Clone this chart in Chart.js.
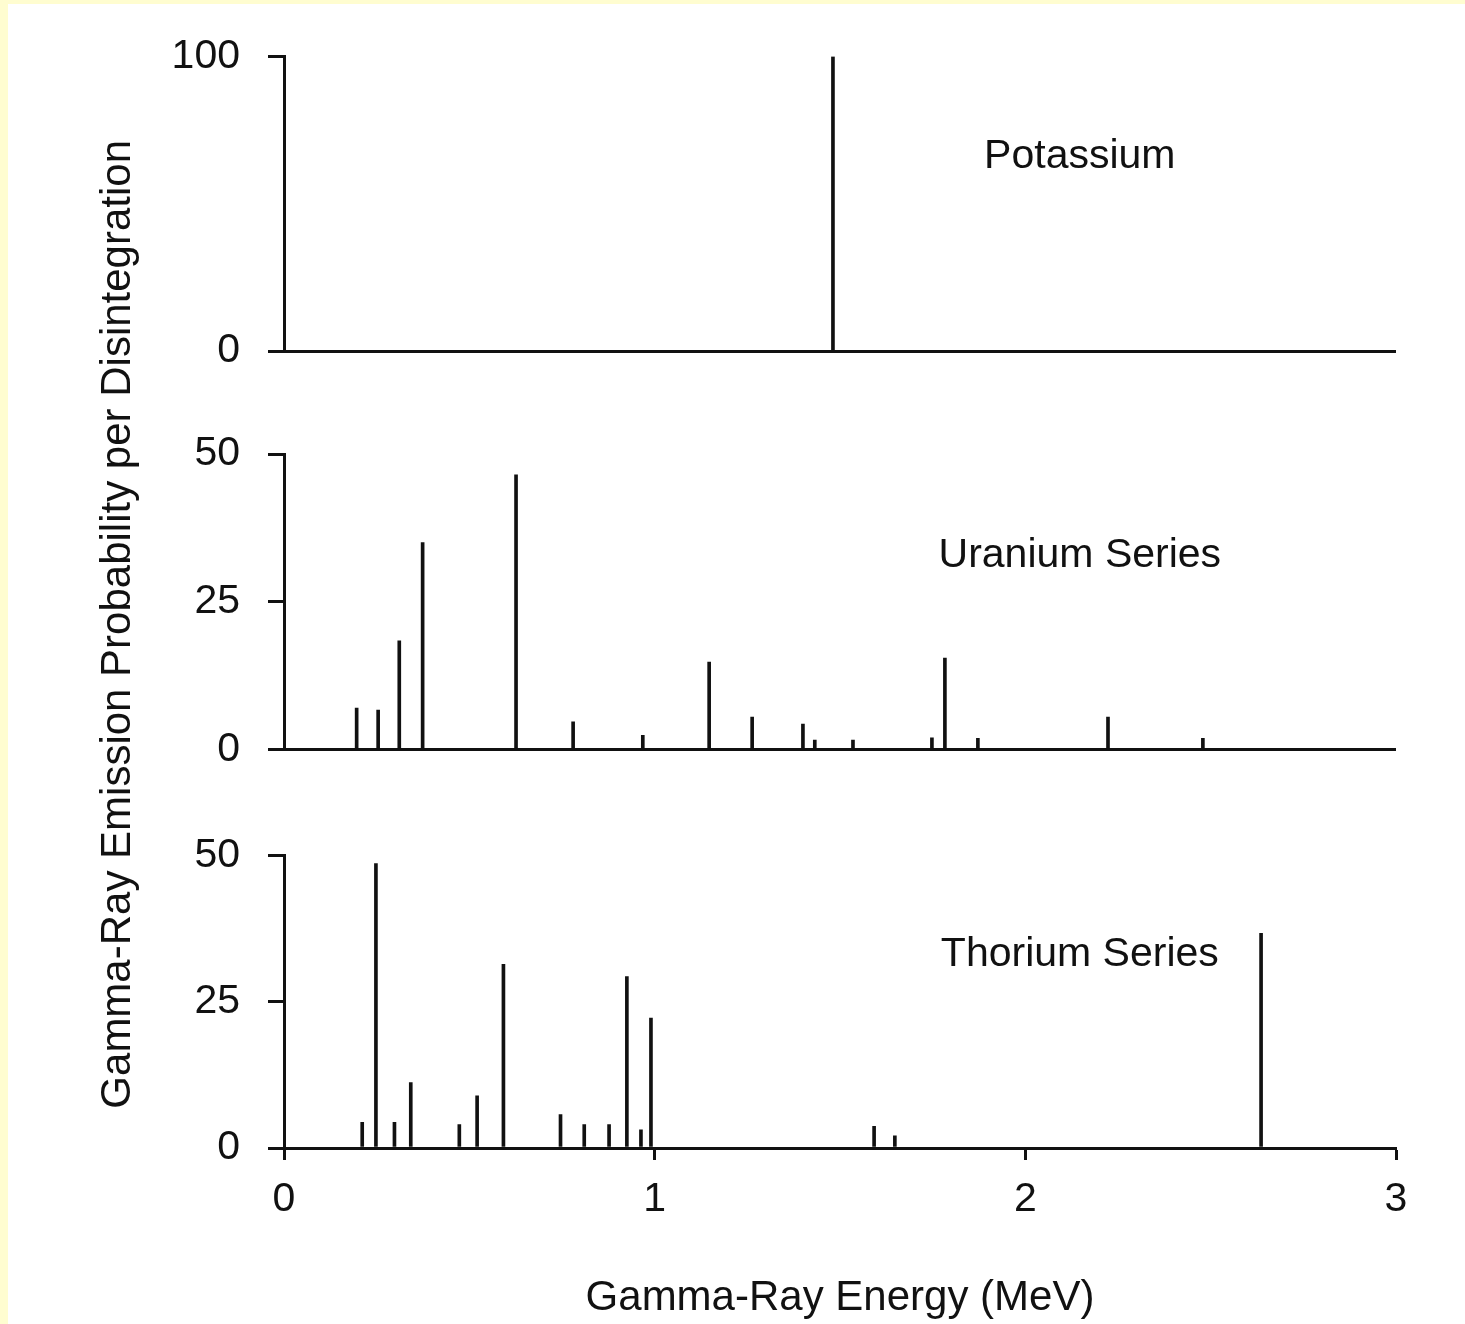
<!DOCTYPE html>
<html>
<head>
<meta charset="utf-8">
<script src="https://cdn.jsdelivr.net/npm/chart.js@4.4.1/dist/chart.umd.min.js"></script>
<style>
  html, body { margin: 0; padding: 0; width: 1465px; height: 1324px; overflow: hidden; background: #fffdd0; }
  #frame { position: absolute; left: 8px; top: 4px; width: 1457px; height: 1320px; background: #ffffff; }
  canvas { display: block; }
</style>
</head>
<body>
<div id="frame"><canvas id="spectra" width="1457" height="1320"></canvas></div>
<script>
// Gamma-ray lines (energy in MeV, emission probability per disintegration in %)
const potassiumEnergy = [1.481];
const potassiumProb   = [100];

const uraniumEnergy = [0.196, 0.254, 0.311, 0.374, 0.626, 0.780, 0.968, 1.147, 1.263, 1.400, 1.432, 1.535, 1.748, 1.783, 1.872, 2.223, 2.479];
const uraniumProb   = [7.0,   6.7,   18.4,  35.0,  46.5,  4.7,   2.4,   14.8,  5.5,   4.3,   1.6,   1.6,   2.0,   15.5,  1.9,   5.5,   1.9];

const thoriumEnergy = [0.211, 0.248, 0.298, 0.342, 0.473, 0.521, 0.592, 0.746, 0.810, 0.877, 0.925, 0.963, 0.990, 1.592, 1.648, 2.636];
const thoriumProb   = [4.4,   48.6,  4.4,   11.2,  4.0,   8.9,   31.4,  5.7,   4.0,   4.0,   29.3,  3.1,   22.2,  3.7,   2.1,   36.7];

const panelNames = ['Potassium', 'Uranium Series', 'Thorium Series'];
const energyTicks = [0, 1, 2, 3];
const potassiumTicks = [0, 100];
const seriesTicks = [0, 25, 50];

const xTitle = 'Gamma-Ray Energy (MeV)';
const yTitle = 'Gamma-Ray Emission Probability per Disintegration';

const INK = '#111111';
const FONT = "'Liberation Sans', Arial, Helvetica, sans-serif";
const AXIS_W = 130;

const toPoints = (xs, ys) => xs.map((x, i) => ({ x, y: ys[i] }));

function lineSet(label, xs, ys, axis) {
  return {
    type: 'bar', label, yAxisID: axis,
    data: toPoints(xs, ys),
    backgroundColor: INK, borderWidth: 0,
    barThickness: 3, grouped: false
  };
}

function panelAxis(ticks, weight) {
  return {
    type: 'linear', position: 'left', stack: 'panels', stackWeight: weight,
    min: ticks[0], max: ticks[ticks.length - 1],
    afterBuildTicks: s => { s.ticks = ticks.map(v => ({ value: v })); },
    afterFit: s => { s.width = AXIS_W; },
    border: { display: true, color: INK, width: 3 },
    grid: {
      display: true, drawOnChartArea: true, drawTicks: true,
      tickLength: 16, tickWidth: 3, tickColor: INK, lineWidth: 3,
      color: c => (c.tick && c.tick.value === 0 ? INK : 'rgba(0,0,0,0)')
    },
    ticks: { color: INK, padding: 28, font: { family: FONT, size: 41 } }
  };
}

function gapAxis(weight) {
  return {
    type: 'linear', position: 'left', stack: 'panels', stackWeight: weight,
    afterFit: s => { s.width = AXIS_W; },
    border: { display: false }, grid: { display: false }, ticks: { display: false }
  };
}

// panel captions and the shared vertical axis title
const captions = {
  id: 'captions',
  afterDatasetsDraw(chart, args, opts) {
    const { ctx, scales, chartArea } = chart;
    ctx.save();
    ctx.fillStyle = INK;
    ctx.textAlign = 'center';
    ctx.textBaseline = 'middle';
    ctx.font = `41px ${FONT}`;
    opts.items.forEach((it, i) => {
      ctx.fillText(panelNames[i], scales.x.getPixelForValue(it.x), scales[it.axis].getPixelForValue(it.y));
    });
    ctx.font = `42px ${FONT}`;
    ctx.translate(chartArea.left - opts.titleGap, (chartArea.top + chartArea.bottom) / 2 + opts.titleShift);
    ctx.rotate(-Math.PI / 2);
    ctx.fillText(yTitle, 0, 0);
    ctx.restore();
  }
};

new Chart(document.getElementById('spectra'), {
  data: {
    datasets: [
      lineSet('Potassium', potassiumEnergy, potassiumProb, 'yK'),
      lineSet('Uranium Series', uraniumEnergy, uraniumProb, 'yU'),
      lineSet('Thorium Series', thoriumEnergy, thoriumProb, 'yT')
    ]
  },
  options: {
    responsive: false,
    animation: false,
    layout: { padding: { left: 146, top: 51, right: 69, bottom: 0 } },
    plugins: {
      legend: { display: false },
      tooltip: { enabled: false },
      captions: {
        items: [
          { axis: 'yK', x: 2.147, y: 66 },
          { axis: 'yU', x: 2.147, y: 32.8 },
          { axis: 'yT', x: 2.147, y: 33 }
        ],
        titleGap: 166, titleShift: 22
      }
    },
    scales: {
      x: {
        type: 'linear', position: 'bottom', min: 0, max: 3, offset: false,
        afterBuildTicks: s => { s.ticks = energyTicks.map(v => ({ value: v })); },
        afterFit: s => { s.height = 176; },
        border: { display: true, color: INK, width: 3 },
        grid: { display: true, offset: false, drawOnChartArea: false, drawTicks: true, tickLength: 12, tickWidth: 3, tickColor: INK },
        ticks: { color: INK, padding: 15, maxRotation: 0, font: { family: FONT, size: 41 } },
        title: { display: true, text: xTitle, color: INK, font: { family: FONT, size: 42 }, padding: { top: 0, bottom: 0 } }
      },
      yT: panelAxis(seriesTicks, 293),
      gapB: gapAxis(106),
      yU: panelAxis(seriesTicks, 296),
      gapA: gapAxis(103),
      yK: panelAxis(potassiumTicks, 295)
    }
  },
  plugins: [captions]
});
</script>
</body>
</html>
